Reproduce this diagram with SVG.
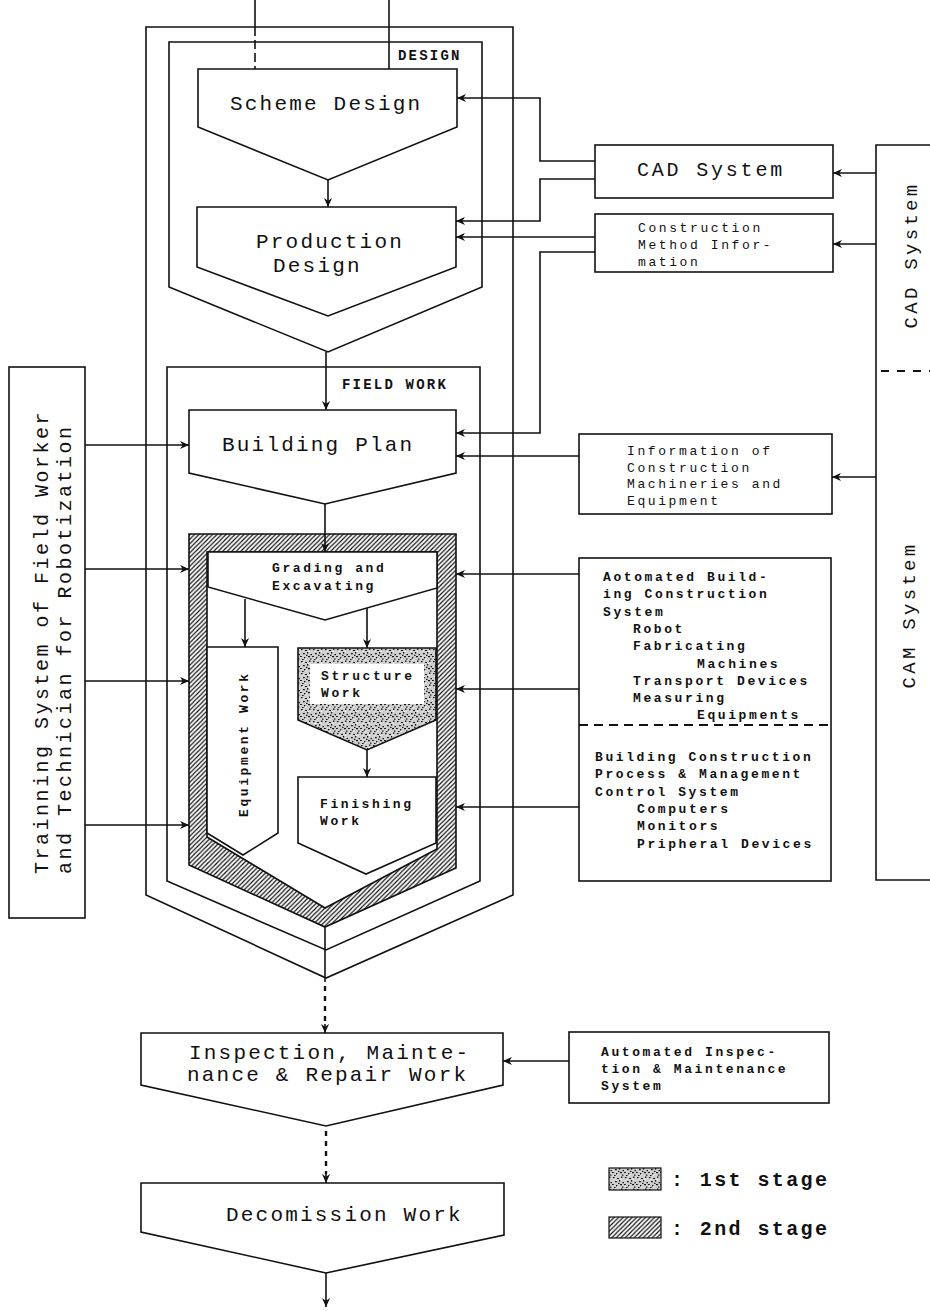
<svg xmlns="http://www.w3.org/2000/svg" width="930" height="1311" viewBox="0 0 930 1311">
<defs>
<style>
.ln{fill:none;stroke:#111;stroke-width:1.6}
.bx{fill:#fff;stroke:#111;stroke-width:1.6}
.t{font-family:"Liberation Mono","DejaVu Sans Mono",monospace;fill:#111}
.big{font-size:21px;letter-spacing:2.2px}
.sm{font-size:13px;letter-spacing:2.6px}
.smb{font-size:13px;letter-spacing:2.6px;font-weight:bold}
.lab{font-size:14px;font-weight:bold;letter-spacing:2.2px}
.side{font-size:19px;letter-spacing:3.3px}
.dot{fill:none;stroke:#111;stroke-width:2.4;stroke-dasharray:5 5}
</style>
<marker id="ah" viewBox="0 0 10 10" refX="10" refY="5" markerWidth="9" markerHeight="9" markerUnits="userSpaceOnUse" orient="auto">
<path d="M0,0.5 L10,5 L0,9.5 L3,5 Z" fill="#111"/>
</marker>
<pattern id="hatch" patternUnits="userSpaceOnUse" width="4.5" height="4.5">
<rect width="4.5" height="4.5" fill="#fff"/>
<path d="M-1,1 L1,-1 M0,4.5 L4.5,0 M3.5,5.5 L5.5,3.5" stroke="#111" stroke-width="1.2"/>
</pattern>
<pattern id="stip" patternUnits="userSpaceOnUse" width="12" height="12">
<rect width="12" height="12" fill="#cfcfcf"/>
<g fill="#111">
<rect x="1" y="1" width="1.6" height="1.2"/><rect x="5" y="2" width="2" height="1"/><rect x="9" y="0.5" width="1.4" height="1.4"/>
<rect x="3" y="5" width="1.8" height="1.2"/><rect x="7" y="4" width="1.2" height="1.6"/><rect x="10.5" y="6" width="1.5" height="1.2"/>
<rect x="0" y="8" width="1.8" height="1"/><rect x="4" y="9" width="1.4" height="1.4"/><rect x="8" y="8" width="2" height="1.2"/>
<rect x="10" y="10.5" width="1.4" height="1.2"/><rect x="2" y="11" width="1.6" height="1"/><rect x="6" y="6.8" width="1.4" height="1.2"/>
</g>
<g fill="#fff">
<rect x="2.5" y="2.5" width="1.2" height="1"/><rect x="8.5" y="2.8" width="1.4" height="1"/><rect x="5" y="10.5" width="1.3" height="1"/>
</g>
</pattern>
</defs>
<rect width="930" height="1311" fill="#fff"/>

<g id="outer-frame">
<path class="bx" d="M146,27 H513 V895 L326,978 L146,895 Z"/>
</g>

<g id="design-stage">
<path class="bx" d="M169,42 H482 V287 L328,352 L169,287 Z"/>
<text class="t lab" x="398" y="60">DESIGN</text>
</g>

<g id="scheme-design">
<path class="bx" d="M198,69 H457 V127 L328,180 L198,127 Z"/>
<text class="t big" x="230" y="110">Scheme Design</text>
</g>

<g id="production-design">
<path class="bx" d="M197,207 H456 V267 L328,316 L197,267 Z"/>
<text class="t big" x="256" y="248">Production</text>
<text class="t big" x="273" y="272">Design</text>
</g>

<g id="field-work">
<path class="bx" d="M167,367 H480 V881 L326,950 L167,881 Z"/>
<text class="t lab" x="342" y="389">FIELD WORK</text>
</g>

<g id="building-plan">
<path class="bx" d="M189,410 H456 V473 L325,504 L189,473 Z"/>
<text class="t big" x="222" y="451">Building Plan</text>
</g>

<g id="second-stage-block">
<path d="M189,534 H456 V868 L325,927 L189,865 Z M207,552 H437 V849 L325,908 L207,837 Z" fill="url(#hatch)" fill-rule="evenodd" stroke="#111" stroke-width="1.6"/>
</g>

<g id="grading">
<path class="bx" d="M208,552 H437 V588 L325,620 L208,587 Z"/>
<text class="t smb" x="272" y="572">Grading and</text>
<text class="t smb" x="272" y="590">Excavating</text>
</g>

<g id="equipment-work">
<path class="bx" d="M207,647 H278 V833 L243,855 L207,833 Z"/>
<text class="t smb" transform="translate(248,817) rotate(-90)">Equipment Work</text>
</g>

<g id="structure-work">
<path d="M298,648 H436 V720 L367,750 L298,720 Z" fill="url(#stip)" stroke="#111" stroke-width="1.6"/>
<rect x="310" y="664" width="114" height="40" fill="#fff"/>
<text class="t smb" x="321" y="680">Structure</text>
<text class="t smb" x="321" y="697">Work</text>
</g>

<g id="finishing-work">
<path class="bx" d="M298,777 H436 V843 L366,874 L298,843 Z"/>
<text class="t smb" x="320" y="808">Finishing</text>
<text class="t smb" x="320" y="825">Work</text>
</g>

<g id="cad-system">
<rect class="bx" x="595" y="145" width="238" height="53"/>
<text class="t" x="637" y="176" font-size="20" letter-spacing="2.8">CAD System</text>
</g>

<g id="construction-method-info">
<rect class="bx" x="595" y="214" width="238" height="58"/>
<text class="t sm" x="638" y="232">Construction</text>
<text class="t sm" x="638" y="249">Method Infor-</text>
<text class="t sm" x="638" y="266">mation</text>
</g>

<g id="machinery-info">
<rect class="bx" x="579" y="434" width="253" height="80"/>
<text class="t sm" x="627" y="455">Information of</text>
<text class="t sm" x="627" y="472">Construction</text>
<text class="t sm" x="627" y="488">Machineries and</text>
<text class="t sm" x="627" y="505">Equipment</text>
</g>

<g id="automated-building-system">
<rect class="bx" x="579" y="558" width="252" height="323"/>
<line x1="579" y1="725" x2="831" y2="725" stroke="#111" stroke-width="1.8" stroke-dasharray="9 6"/>
<text class="t smb" x="603" y="581">Aotomated Build-</text>
<text class="t smb" x="603" y="598">ing Construction</text>
<text class="t smb" x="603" y="616">System</text>
<text class="t smb" x="633" y="633">Robot</text>
<text class="t smb" x="633" y="650">Fabricating</text>
<text class="t smb" x="697" y="668">Machines</text>
<text class="t smb" x="633" y="685">Transport Devices</text>
<text class="t smb" x="633" y="702">Measuring</text>
<text class="t smb" x="697" y="719">Equipments</text>
<text class="t smb" x="595" y="761">Building Construction</text>
<text class="t smb" x="595" y="778">Process &amp; Management</text>
<text class="t smb" x="595" y="796">Control System</text>
<text class="t smb" x="637" y="813">Computers</text>
<text class="t smb" x="637" y="830">Monitors</text>
<text class="t smb" x="637" y="848">Pripheral Devices</text>
</g>

<g id="cad-cam-system">
<path class="ln" d="M932,145 H876 V880 H932"/>
<line x1="881" y1="371" x2="930" y2="371" stroke="#111" stroke-width="1.8" stroke-dasharray="8 8"/>
<text class="t side" text-anchor="middle" transform="translate(917,255) rotate(-90)">CAD System</text>
<text class="t side" text-anchor="middle" transform="translate(915,615) rotate(-90)">CAM System</text>
</g>

<g id="training-system">
<rect class="bx" x="9" y="367" width="76" height="551"/>
<text class="t" font-size="20" letter-spacing="2.5" transform="translate(48,874) rotate(-90)">Trainning System of Field Worker</text>
<text class="t" font-size="20" letter-spacing="2.5" transform="translate(71,874) rotate(-90)">and Technician for Robotization</text>
</g>

<g id="inspection">
<path class="bx" d="M141,1033 H503 V1085 L326,1126 L141,1085 Z"/>
<text class="t big" x="189" y="1059">Inspection, Mainte-</text>
<text class="t big" x="187" y="1081">nance &amp; Repair Work</text>
</g>

<g id="automated-inspection">
<rect class="bx" x="569" y="1032" width="260" height="71"/>
<text class="t smb" x="601" y="1056">Automated Inspec-</text>
<text class="t smb" x="601" y="1073">tion &amp; Maintenance</text>
<text class="t smb" x="601" y="1090">System</text>
</g>

<g id="decommission">
<path class="bx" d="M141,1183 H504 V1235 L326,1273 L141,1232 Z"/>
<text class="t big" x="226" y="1221">Decomission Work</text>
</g>

<g id="legend">
<rect x="609" y="1168" width="52" height="22" fill="url(#stip)" stroke="#111" stroke-width="1.2"/>
<rect x="609" y="1217" width="52" height="21" fill="url(#hatch)" stroke="#111" stroke-width="1.2"/>
<text class="t" x="671" y="1186" font-size="20" font-weight="bold" letter-spacing="2.4">: 1st stage</text>
<text class="t" x="671" y="1235" font-size="20" font-weight="bold" letter-spacing="2.4">: 2nd stage</text>
</g>

<g id="connectors">
<line class="ln" x1="255" y1="0" x2="255" y2="27"/>
<line x1="255" y1="27" x2="255" y2="69" stroke="#111" stroke-width="1.6" stroke-dasharray="9 4"/>
<line class="ln" x1="389" y1="0" x2="389" y2="69"/>
<path class="ln" d="M328,180 V207" marker-end="url(#ah)"/>
<path class="ln" d="M326,352 V410" marker-end="url(#ah)"/>
<path class="ln" d="M325,504 V552" marker-end="url(#ah)"/>
<path class="ln" d="M245,599 V647" marker-end="url(#ah)"/>
<path class="ln" d="M367,608 V648" marker-end="url(#ah)"/>
<path class="ln" d="M367,750 V777" marker-end="url(#ah)"/>
<path class="ln" d="M325,927 V982"/>
<path class="dot" d="M325,986 V1026"/>
<path class="ln" d="M325,1024 V1033" marker-end="url(#ah)"/>
<path class="dot" d="M326,1131 V1174"/>
<path class="ln" d="M326,1172 V1183" marker-end="url(#ah)"/>
<path class="ln" d="M326,1273 V1307" marker-end="url(#ah)"/>
<path class="ln" d="M595,161 H540 V98 H457" marker-end="url(#ah)"/>
<path class="ln" d="M595,179 H540 V221 H456" marker-end="url(#ah)"/>
<path class="ln" d="M595,237 H456" marker-end="url(#ah)"/>
<path class="ln" d="M595,252 H540 V433 H456" marker-end="url(#ah)"/>
<path class="ln" d="M579,456 H456" marker-end="url(#ah)"/>
<path class="ln" d="M579,574 H456" marker-end="url(#ah)"/>
<path class="ln" d="M579,689 H456" marker-end="url(#ah)"/>
<path class="ln" d="M579,807 H456" marker-end="url(#ah)"/>
<path class="ln" d="M876,173 H833" marker-end="url(#ah)"/>
<path class="ln" d="M876,244 H833" marker-end="url(#ah)"/>
<path class="ln" d="M876,477 H832" marker-end="url(#ah)"/>
<path class="ln" d="M85,445 H189" marker-end="url(#ah)"/>
<path class="ln" d="M85,569 H189" marker-end="url(#ah)"/>
<path class="ln" d="M85,681 H189" marker-end="url(#ah)"/>
<path class="ln" d="M85,825 H189" marker-end="url(#ah)"/>
<path class="ln" d="M569,1061 H503" marker-end="url(#ah)"/>
</g>
</svg>
